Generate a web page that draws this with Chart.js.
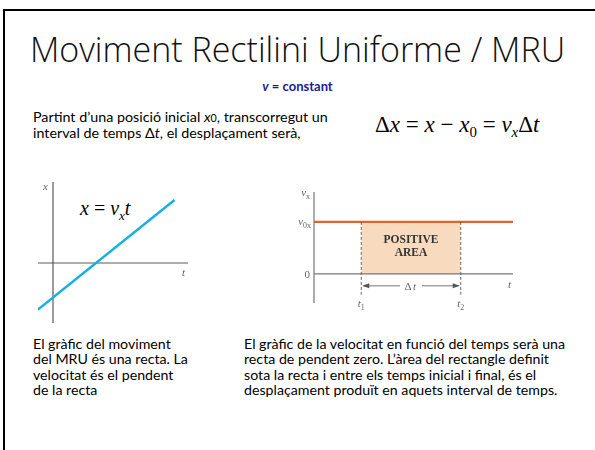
<!DOCTYPE html>
<html>
<head>
<meta charset="utf-8">
<script src="https://cdn.jsdelivr.net/npm/chart.js@4"></script>
<style>
  body { margin: 0; width: 595px; height: 450px; background: #fff; position: relative; overflow: hidden; font-family: Lato, sans-serif; color: #000; }
  .edge { position: absolute; background: #000; }
  .txt { position: absolute; white-space: nowrap; }
  #title { left: 0; width: 595px; top: 27px; text-align: center; font-family: 'Open Sans'; font-weight: 300; font-size: 34px; line-height: 44px; color: #111; }
  #sub { left: 0; width: 595px; top: 78px; text-align: center; font-weight: bold; font-size: 13px; color: #1c1c8e; }
  #intro { left: 33px; top: 109px; font-size: 14.3px; line-height: 15px; }
  #eq { left: 375px; top: 112px; font-family: 'Liberation Serif'; font-size: 23px; }
  #eqx { left: 80px; top: 197px; font-family: 'Liberation Serif'; font-size: 20px; font-style: italic; }
  .note { top: 336px; font-size: 14.2px; line-height: 15.3px; }
  #noteL { left: 33px; }
  #noteR { left: 244px; }
  sub { font-size: 65%; vertical-align: -0.35em; line-height: 0; }
  canvas { position: absolute; }
</style>
</head>
<body>
<div class="edge" style="left:3px;top:9px;width:600px;height:2px"></div>
<div class="edge" style="left:3px;top:9px;width:2px;height:450px"></div>
<div class="txt" id="title">Moviment Rectilini Uniforme / MRU</div>
<div class="txt" id="sub"><i>v</i> = constant</div>
<div class="txt" id="intro">Partint d’una posició inicial <i>x</i><span style="font-size:75%">0</span>, transcorregut un<br>interval de temps Δ<i>t</i>, el desplaçament serà,</div>
<div class="txt" id="eq">Δ<i>x</i> = <i>x</i> − <i>x</i><sub>0</sub> = <i>v</i><sub><i>x</i></sub>Δ<i>t</i></div>
<div class="txt" id="eqx">x <span style="font-style:normal">=</span> v<sub>x</sub>t</div>
<div class="txt note" id="noteL">El gràfic del moviment<br>del MRU és una recta. La<br>velocitat és el pendent<br>de la recta</div>
<div class="txt note" id="noteR">El gràfic de la velocitat en funció del temps serà una<br>recta de pendent zero. L’àrea del rectangle definit<br>sota la recta i entre els temps inicial i final, és el<br>desplaçament produït en aquets interval de temps.</div>

<canvas id="posChart" width="170" height="170" style="left:20px;top:170px"></canvas>
<canvas id="velChart" width="250" height="140" style="left:280px;top:180px"></canvas>

<script>
// position vs time (x-t)
const posT = [-1, 8.1];
const posX = [-3.1, 4.2];

// velocity vs time (v-t)
const velT = [0, 8];
const velV = [2, 2];
const areaT = [1.9, 5.9];   // t1, t2
const areaV = [2, 2];

const AXIS = '#5a5a5a';
const LABEL = '#666';

function pts(xs, ys) {
  return xs.map((x, i) => ({ x: x, y: ys[i] }));
}

// text with an optional subscript, serif italic like the textbook figures
function label(ctx, main, subTxt, x, y, align, size) {
  ctx.save();
  ctx.fillStyle = LABEL;
  ctx.textBaseline = 'alphabetic';
  ctx.font = 'italic ' + size + 'px "Liberation Serif"';
  const w1 = ctx.measureText(main).width;
  ctx.font = (size * 0.72) + 'px "Liberation Serif"';
  const w2 = subTxt ? ctx.measureText(subTxt).width : 0;
  let x0 = x;
  if (align === 'right') x0 = x - w1 - w2;
  if (align === 'center') x0 = x - (w1 + w2) / 2;
  ctx.font = 'italic ' + size + 'px "Liberation Serif"';
  ctx.fillText(main, x0, y);
  if (subTxt) {
    ctx.font = (size * 0.72) + 'px "Liberation Serif"';
    ctx.fillText(subTxt, x0 + w1, y + size * 0.3);
  }
  ctx.restore();
}

const axesPlugin = {
  id: 'axes',
  beforeDatasetsDraw(chart, args, opts) {
    const { ctx, chartArea: a, scales: { x, y } } = chart;
    const x0 = x.getPixelForValue(0), y0 = y.getPixelForValue(0);
    ctx.save();
    ctx.strokeStyle = opts.color;
    ctx.lineWidth = 1.2;
    ctx.beginPath();
    ctx.moveTo(x0, a.top); ctx.lineTo(x0, a.bottom);
    ctx.moveTo(opts.fromZero ? x0 : a.left, y0); ctx.lineTo(a.right, y0);
    ctx.stroke();
    ctx.restore();
  }
};

const posLabels = {
  id: 'posLabels',
  afterDraw(chart) {
    const { ctx, chartArea: a, scales: { x, y } } = chart;
    label(ctx, 'x', '', x.getPixelForValue(0) - 10, a.top + 8, 'left', 11);
    label(ctx, 't', '', a.right - 6, y.getPixelForValue(0) + 13, 'left', 11);
  }
};

const velLabels = {
  id: 'velLabels',
  afterDraw(chart) {
    const { ctx, chartArea: a, scales: { x, y } } = chart;
    const yv = y.getPixelForValue(areaV[0]);
    const yLow = y.getPixelForValue(-0.8);
    const yArr = y.getPixelForValue(-0.46);
    const x1 = x.getPixelForValue(areaT[0]), x2 = x.getPixelForValue(areaT[1]);
    ctx.save();
    // dashed limits at t1 and t2
    ctx.strokeStyle = '#555';
    ctx.lineWidth = 0.9;
    ctx.setLineDash([3, 2]);
    ctx.beginPath();
    ctx.moveTo(x1, yv); ctx.lineTo(x1, yLow);
    ctx.moveTo(x2, yv); ctx.lineTo(x2, yLow);
    ctx.stroke();
    ctx.setLineDash([]);
    // delta-t arrow
    const mid = (x1 + x2) / 2;
    ctx.strokeStyle = '#666';
    ctx.beginPath();
    ctx.moveTo(x1 + 2, yArr); ctx.lineTo(mid - 11, yArr);
    ctx.moveTo(mid + 11, yArr); ctx.lineTo(x2 - 2, yArr);
    ctx.stroke();
    ctx.fillStyle = '#555';
    ctx.beginPath();
    ctx.moveTo(x1 + 1, yArr); ctx.lineTo(x1 + 8, yArr - 2.5); ctx.lineTo(x1 + 8, yArr + 2.5); ctx.closePath();
    ctx.moveTo(x2 - 1, yArr); ctx.lineTo(x2 - 8, yArr - 2.5); ctx.lineTo(x2 - 8, yArr + 2.5); ctx.closePath();
    ctx.fill();
    ctx.restore();

    ctx.save();
    ctx.fillStyle = LABEL;
    ctx.font = '11px "Liberation Serif"';
    ctx.textAlign = 'center';
    ctx.fillText('Δ', mid - 3, yArr + 4);
    ctx.restore();
    label(ctx, 't', '', mid + 2, yArr + 4, 'left', 11);

    label(ctx, 't', '1', x1, yLow + 12, 'center', 11);
    label(ctx, 't', '2', x2, yLow + 12, 'center', 11);
    label(ctx, 'v', '0x', a.left - 3, yv + 3, 'right', 11);
    label(ctx, 'v', 'x', a.left - 4, a.top + 4, 'right', 11);
    label(ctx, 't', '', a.right - 5, y.getPixelForValue(0) + 14, 'left', 11);
    ctx.save();
    ctx.fillStyle = LABEL;
    ctx.font = '11px "Liberation Serif"';
    ctx.textAlign = 'right';
    ctx.fillText('0', a.left - 4, y.getPixelForValue(0) + 4);

    ctx.fillStyle = '#333';
    ctx.font = 'bold 11.5px "Liberation Serif"';
    ctx.textAlign = 'center';
    ctx.fillText('POSITIVE', mid, y.getPixelForValue(1.2));
    ctx.fillText('AREA', mid, y.getPixelForValue(0.68));
    ctx.restore();
  }
};

const common = {
  responsive: false,
  animation: false,
  plugins: { legend: { display: false }, tooltip: { enabled: false } },
  elements: { point: { radius: 0 } }
};

new Chart(document.getElementById('posChart'), {
  type: 'scatter',
  data: {
    datasets: [{
      data: pts(posT, posX),
      showLine: true,
      borderColor: '#1aaee3',
      borderWidth: 2.4
    }]
  },
  options: {
    ...common,
    layout: { padding: { left: 18, top: 12, right: 2, bottom: 17 } },
    scales: {
      x: { type: 'linear', min: -1, max: 9, display: false },
      y: { type: 'linear', min: -4, max: 5.4, display: false }
    },
    plugins: { ...common.plugins, axes: { color: AXIS, fromZero: false } }
  },
  plugins: [axesPlugin, posLabels]
});

new Chart(document.getElementById('velChart'), {
  type: 'scatter',
  data: {
    datasets: [{
      data: pts(areaT, areaV),
      showLine: true,
      borderWidth: 0,
      borderColor: 'rgba(0,0,0,0)',
      backgroundColor: '#f8dbbf',
      fill: 'origin',
      order: 2
    }, {
      data: pts(velT, velV),
      showLine: true,
      borderColor: '#e2622b',
      borderWidth: 2.4,
      order: 1
    }]
  },
  options: {
    ...common,
    layout: { padding: { left: 34, top: 12, right: 17, bottom: 17 } },
    scales: {
      x: { type: 'linear', min: 0, max: 8, display: false },
      y: { type: 'linear', min: -1.12, max: 3.15, display: false }
    },
    plugins: { ...common.plugins, filler: { drawTime: 'beforeDatasetsDraw' }, axes: { color: '#777', fromZero: true } }
  },
  plugins: [axesPlugin, velLabels]
});
</script>
</body>
</html>
